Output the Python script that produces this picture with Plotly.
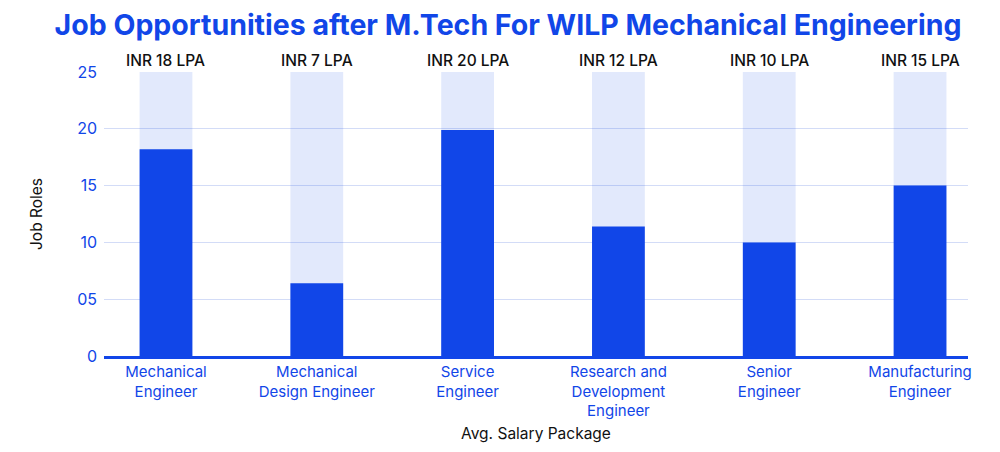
import plotly.graph_objects as go

categories = ["Mechanical<br>Engineer", "Mechanical<br>Design Engineer", "Service<br>Engineer",
              "Research and<br>Development<br>Engineer", "Senior<br>Engineer", "Manufacturing<br>Engineer"]
job_roles = [18.2, 6.4, 19.9, 11.4, 10.0, 15.0]
background = [25, 25, 25, 25, 25, 25]
salary_labels = ["INR 18 LPA", "INR 7 LPA", "INR 20 LPA", "INR 12 LPA", "INR 10 LPA", "INR 15 LPA"]
tick_vals = [0, 5, 10, 15, 20, 25]
tick_text = ["0", "05", "10", "15", "20", "25"]

BLUE = "#1146e8"
FONT = "Inter, Lato, sans-serif"

fig = go.Figure()
fig.add_trace(go.Bar(x=categories, y=background, width=0.35,
                     marker=dict(color="rgba(18,70,230,0.12)", line=dict(width=0)),
                     hoverinfo="skip", showlegend=False))
fig.add_trace(go.Bar(x=categories, y=job_roles, width=0.35,
                     marker=dict(color=BLUE, line=dict(width=0)), showlegend=False))

for c, s in zip(categories, salary_labels):
    fig.add_annotation(x=c, y=25, yref="y", text=s, showarrow=False, yanchor="bottom", yshift=0,
                       font=dict(family=FONT, size=15.5, color="#111111", weight=500))

fig.update_layout(
    width=1000, height=452,
    barmode="overlay",
    plot_bgcolor="white", paper_bgcolor="white",
    margin=dict(l=96, r=40, t=64, b=104),
    title=dict(text="<b>Job Opportunities after M.Tech For WILP Mechanical Engineering</b>",
               x=0.5, xanchor="center", y=0.962, yanchor="middle",
               font=dict(family=FONT, size=28.5, color=BLUE)),
    xaxis=dict(range=[-0.411, 5.318], showgrid=False, showline=True, linecolor=BLUE, linewidth=3,
               tickfont=dict(family=FONT, size=15, color=BLUE), ticks="",
               title=dict(text="Avg. Salary Package", font=dict(family=FONT, size=15.5, color="#111111"), standoff=10)),
    yaxis=dict(range=[0, 25], tickvals=tick_vals, ticktext=tick_text, showgrid=True,
               gridcolor="#d3dcf7", gridwidth=1, zeroline=False, showline=False,
               tickfont=dict(family=FONT, size=16, color=BLUE), ticklabelstandoff=6,
               title=dict(text="Job Roles", font=dict(family=FONT, size=15.5, color="#111111"), standoff=30)),
)

fig.write_html("out.html")
